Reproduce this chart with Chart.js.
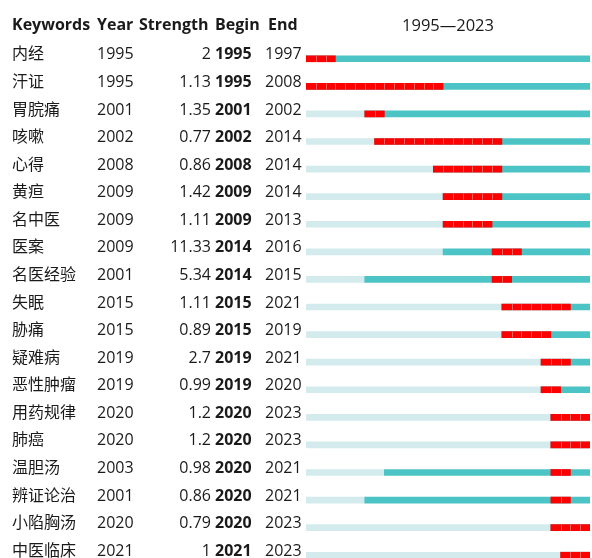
<!DOCTYPE html>
<html>
<head>
<meta charset="utf-8">
<script src="https://cdn.jsdelivr.net/npm/chart.js@4"></script>
<style>
  html, body { margin: 0; padding: 0; background: #fff; overflow: hidden; }
  #wrap { width: 592px; height: 572px; position: relative; }
</style>
</head>
<body>
<div id="wrap"><canvas id="canvas"></canvas></div>
<script>
/* Burst data. */
const keywords = ["内经", "汗证", "胃脘痛", "咳嗽", "心得", "黄疸", "名中医", "医案", "名医经验", "失眠",
  "胁痛", "疑难病", "恶性肿瘤", "用药规律", "肺癌", "温胆汤", "辨证论治", "小陷胸汤", "中医临床"]
const years = [1995, 1995, 2001, 2002, 2008, 2009, 2009, 2009, 2001, 2015,
  2015, 2019, 2019, 2020, 2020, 2003, 2001, 2020, 2021]
const strengths = ["2", "1.13", "1.35", "0.77", "0.86", "1.42", "1.11", "11.33", "5.34", "1.11",
  "0.89", "2.7", "0.99", "1.2", "1.2", "0.98", "0.86", "0.79", "1"]
const begins = [1995, 1995, 2001, 2002, 2008, 2009, 2009, 2014, 2014, 2015,
  2015, 2019, 2019, 2020, 2020, 2020, 2020, 2020, 2021]
const ends = [1997, 2008, 2002, 2014, 2014, 2014, 2013, 2016, 2015, 2021,
  2019, 2021, 2020, 2023, 2023, 2021, 2021, 2023, 2023]
const firstYear = 1995
const lastYear = 2023

const fontLatin = '"Open Sans", "Noto Sans CJK SC", sans-serif'

/* Plugin that draws the table on the left and the year lines in red cells. */
const tablePlugin = {
  id: "table",
  afterDatasetsDraw(chart) {
    const ctx = chart.ctx
    const x = chart.scales.x
    const y = chart.scales.y

    /* Faint lines between years inside the red bursts. */
    ctx.save()
    ctx.strokeStyle = "rgb(255, 95, 95)"
    ctx.lineWidth = 1
    keywords.forEach((k, i) => {
      const cy = y.getPixelForValue(i)
      for (let yr = begins[i] + 1; yr <= ends[i]; yr++) {
        const px = Math.round(x.getPixelForValue(yr)) + 0.5
        ctx.beginPath()
        ctx.moveTo(px, cy - 3)
        ctx.lineTo(px, cy + 3)
        ctx.stroke()
      }
    })
    ctx.restore()

    ctx.save()
    ctx.fillStyle = "#1a1a1a"
    ctx.textBaseline = "middle"

    /* Header row. */
    ctx.font = "bold 16px " + fontLatin
    ctx.textAlign = "left"
    ctx.fillText("Keywords", 12, 25)
    ctx.fillText("Year", 97, 25)
    ctx.fillText("Strength", 139, 25)
    ctx.fillText("Begin", 215, 25)
    ctx.fillText("End", 268, 25)

    ctx.font = "16.5px " + fontLatin
    ctx.textAlign = "center"
    ctx.fillText(firstYear + "—" + lastYear, 448, 26)

    /* Body rows. */
    keywords.forEach((k, i) => {
      const cy = y.getPixelForValue(i) - 4
      ctx.font = "16px " + fontLatin
      ctx.textAlign = "left"
      ctx.fillText(k, 12, cy)
      ctx.fillText(String(years[i]), 97, cy)
      ctx.fillText(String(ends[i]), 265, cy)
      ctx.textAlign = "right"
      ctx.fillText(strengths[i], 211, cy)
      ctx.font = "bold 16px " + fontLatin
      ctx.textAlign = "left"
      ctx.fillText(String(begins[i]), 215, cy)
    })
    ctx.restore()
  }
}

const ctx = document.getElementById("canvas").getContext("2d")
const chart = new Chart(ctx, {
  type: "bar",
  data: {
    labels: keywords,
    datasets: [{
      label: "burst",
      data: begins.map((b, i) => [b, ends[i] + 1]),
      backgroundColor: "#ff0000",
      barThickness: 6
    }, {
      label: "after",
      data: years.map(yr => [yr, lastYear + 1]),
      backgroundColor: "rgb(76, 195, 196)",
      barThickness: 6
    }, {
      label: "before",
      data: years.map(yr => [firstYear, yr]),
      backgroundColor: "rgb(211, 235, 236)",
      barThickness: 6
    }]
  },
  plugins: [tablePlugin],
  options: {
    indexAxis: "y",
    responsive: true,
    maintainAspectRatio: false,
    animation: false,
    grouped: false,
    borderWidth: 0,
    layout: {
      padding: { left: 306, right: 2, top: 45, bottom: 3 }
    },
    scales: {
      x: { type: "linear", min: firstYear, max: lastYear + 1, display: false },
      y: { display: false }
    },
    plugins: {
      legend: { display: false },
      tooltip: { enabled: false }
    }
  }
})
</script>
</body>
</html>
